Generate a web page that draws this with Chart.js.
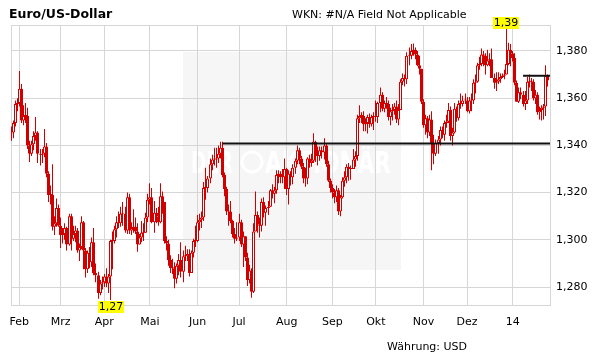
<!DOCTYPE html>
<html>
<head>
<meta charset="utf-8">
<script src="https://cdn.jsdelivr.net/npm/chart.js@4.4.1/dist/chart.umd.min.js"></script>
<style>
  body { margin: 0; background: #fff; }
  #wrap { position: relative; width: 611px; height: 364px; font-family: 'DejaVu Sans', Verdana, sans-serif; color: #000; }
  #wrap canvas { display: block; }
  #wrap div { position: absolute; white-space: nowrap; }
</style>
</head>
<body>
<div id="wrap">
  <canvas id="fxChart" width="611" height="364"></canvas>
  <div style="left:9px; top:6px; font-size:12.5px; line-height:15px; font-weight:bold;">Euro/US-Dollar</div>
  <div style="left:292px; top:7.5px; font-size:11px; line-height:14px;">WKN: #N/A Field Not Applicable</div>
  <div style="left:387px; top:339.5px; font-size:11px; line-height:14px;">Währung: USD</div>
</div>
<script>
// month ticks: label + index of the first trading day of that month
const monthLabels = ['Feb', 'Mrz', 'Apr', 'Mai', 'Jun', 'Jul', 'Aug', 'Sep', 'Okt', 'Nov', 'Dez', '14'];
const monthStarts = [4, 24, 45, 67, 90, 110, 133, 155, 176, 199, 220, 242];
const yTicks = [1.28, 1.30, 1.32, 1.34, 1.36, 1.38];

// daily EUR/USD, 28 Jan 2013 - 24 Jan 2014 (open = previous close)
const firstOpen = 1.3450;
const closes = [
  1.3455, 1.3495, 1.3575, 1.3580,
  1.3640, 1.3505, 1.3525, 1.3525, 1.3400, 1.3365, 1.3405, 1.3440, 1.3455, 1.3365, 1.3360, 1.3365, 1.3395, 1.3280, 1.3190, 1.3190, 1.3055, 1.3070, 1.3135, 1.3060,
  1.3020, 1.3025, 1.3050, 1.2980, 1.3100, 1.3005, 1.3025, 1.3040, 1.2955, 1.2970, 1.3075, 1.2955, 1.2875, 1.2945, 1.2905, 1.2990, 1.2860, 1.2850, 1.2775, 1.2815, 1.2820,
  1.2845, 1.2815, 1.2845, 1.2995, 1.2995, 1.3045, 1.3075, 1.3070, 1.3110, 1.3110, 1.3040, 1.3180, 1.3040, 1.3050, 1.3055, 1.3035, 1.2980, 1.3010, 1.3030, 1.3030, 1.3095, 1.3170,
  1.3180, 1.3075, 1.3115, 1.3100, 1.3075, 1.3185, 1.3160, 1.2995, 1.2985, 1.2915, 1.2880, 1.2880, 1.2835, 1.2890, 1.2915, 1.2865, 1.2930, 1.2930, 1.2940, 1.2860, 1.2945, 1.2995, 1.2995,
  1.3075, 1.3085, 1.3095, 1.3220, 1.3220, 1.3260, 1.3320, 1.3340, 1.3340, 1.3345, 1.3365, 1.3390, 1.3275, 1.3215, 1.3120, 1.3120, 1.3080, 1.3025, 1.3005, 1.3010,
  1.3075, 1.2980, 1.3015, 1.2925, 1.2830, 1.2870, 1.2780, 1.3035, 1.3105, 1.3065, 1.3060, 1.3160, 1.3115, 1.3135, 1.3140, 1.3210, 1.3195, 1.3210, 1.3275, 1.3280, 1.3265, 1.3265, 1.3300,
  1.3215, 1.3280, 1.3265, 1.3305, 1.3335, 1.3380, 1.3345, 1.3310, 1.3260, 1.3260, 1.3345, 1.3325, 1.3335, 1.3415, 1.3355, 1.3355, 1.3380, 1.3370, 1.3400, 1.3320, 1.3250, 1.3220,
  1.3200, 1.3180, 1.3210, 1.3120, 1.3180, 1.3250, 1.3265, 1.3310, 1.3300, 1.3300, 1.3340, 1.3355, 1.3515, 1.3525, 1.3525, 1.3490, 1.3495, 1.3520, 1.3490, 1.3520, 1.3525,
  1.3520, 1.3580, 1.3615, 1.3555, 1.3580, 1.3575, 1.3520, 1.3545, 1.3550, 1.3565, 1.3510, 1.3550, 1.3670, 1.3685, 1.3680, 1.3780, 1.3780, 1.3800, 1.3805, 1.3785, 1.3740, 1.3725, 1.3585,
  1.3485, 1.3515, 1.3455, 1.3510, 1.3410, 1.3365, 1.3410, 1.3425, 1.3465, 1.3445, 1.3495, 1.3500, 1.3550, 1.3440, 1.3455, 1.3555, 1.3515, 1.3575, 1.3575, 1.3590, 1.3590,
  1.3545, 1.3590, 1.3590, 1.3665, 1.3670, 1.3740, 1.3745, 1.3785, 1.3780, 1.3740, 1.3760, 1.3765, 1.3685, 1.3665, 1.3670, 1.3680, 1.3690, 1.3695, 1.3700, 1.3745, 1.3805, 1.3790,
  1.3770, 1.3665, 1.3585, 1.3625, 1.3615, 1.3575, 1.3590, 1.3670, 1.3670, 1.3670, 1.3600, 1.3615, 1.3540, 1.3550, 1.3560, 1.3565, 1.3695, 1.3675
];
const highs = [
  1.3480, 1.3505, 1.3590, 1.3600,
  1.3715, 1.3660, 1.3570, 1.3580, 1.3560, 1.3420, 1.3420, 1.3460, 1.3520, 1.3460, 1.3385, 1.3385, 1.3470, 1.3410, 1.3290, 1.3230, 1.3320, 1.3100, 1.3175, 1.3150,
  1.3095, 1.3050, 1.3070, 1.3055, 1.3110, 1.3110, 1.3060, 1.3060, 1.3050, 1.2985, 1.3100, 1.3080, 1.2965, 1.2955, 1.2970, 1.3010, 1.3050, 1.2900, 1.2865, 1.2830, 1.2845,
  1.2855, 1.2880, 1.2855, 1.3000, 1.3035, 1.3060, 1.3100, 1.3120, 1.3140, 1.3160, 1.3140, 1.3200, 1.3195, 1.3075, 1.3130, 1.3095, 1.3070, 1.3025, 1.3080, 1.3070, 1.3115, 1.3195,
  1.3240, 1.3220, 1.3165, 1.3135, 1.3140, 1.3240, 1.3205, 1.3160, 1.3015, 1.3000, 1.2935, 1.2920, 1.2905, 1.2900, 1.2940, 1.2990, 1.2955, 1.2975, 1.2960, 1.2960, 1.2955, 1.3005, 1.3060,
  1.3105, 1.3110, 1.3120, 1.3245, 1.3305, 1.3270, 1.3345, 1.3360, 1.3390, 1.3390, 1.3400, 1.3415, 1.3416, 1.3285, 1.3225, 1.3150, 1.3165, 1.3085, 1.3050, 1.3075,
  1.3110, 1.3085, 1.3035, 1.3015, 1.2945, 1.2895, 1.2880, 1.3070, 1.3205, 1.3120, 1.3095, 1.3175, 1.3180, 1.3145, 1.3165, 1.3215, 1.3235, 1.3225, 1.3295, 1.3295, 1.3290, 1.3300, 1.3345,
  1.3305, 1.3295, 1.3290, 1.3320, 1.3345, 1.3400, 1.3390, 1.3355, 1.3325, 1.3305, 1.3350, 1.3360, 1.3365, 1.3452, 1.3420, 1.3395, 1.3395, 1.3395, 1.3430, 1.3405, 1.3335, 1.3260,
  1.3235, 1.3215, 1.3230, 1.3220, 1.3190, 1.3265, 1.3290, 1.3320, 1.3325, 1.3315, 1.3385, 1.3375, 1.3530, 1.3570, 1.3540, 1.3545, 1.3515, 1.3530, 1.3535, 1.3530, 1.3540,
  1.3590, 1.3585, 1.3645, 1.3625, 1.3590, 1.3605, 1.3590, 1.3560, 1.3575, 1.3580, 1.3590, 1.3575, 1.3680, 1.3705, 1.3700, 1.3795, 1.3815, 1.3830, 1.3832, 1.3815, 1.3800, 1.3780, 1.3725,
  1.3595, 1.3530, 1.3525, 1.3530, 1.3545, 1.3445, 1.3425, 1.3440, 1.3480, 1.3480, 1.3505, 1.3530, 1.3580, 1.3565, 1.3475, 1.3580, 1.3565, 1.3590, 1.3620, 1.3610, 1.3620,
  1.3605, 1.3605, 1.3620, 1.3680, 1.3700, 1.3750, 1.3775, 1.3810, 1.3800, 1.3790, 1.3805, 1.3790, 1.3810, 1.3705, 1.3710, 1.3710, 1.3705, 1.3705, 1.3720, 1.3893, 1.3835, 1.3830,
  1.3800, 1.3790, 1.3675, 1.3645, 1.3645, 1.3630, 1.3630, 1.3690, 1.3700, 1.3685, 1.3680, 1.3635, 1.3625, 1.3565, 1.3570, 1.3575, 1.3740, 1.3700
];
const lows = [
  1.3420, 1.3430, 1.3480, 1.3545,
  1.3565, 1.3495, 1.3485, 1.3495, 1.3385, 1.3330, 1.3355, 1.3380, 1.3420, 1.3325, 1.3315, 1.3325, 1.3350, 1.3265, 1.3160, 1.3150, 1.3040, 1.3020, 1.3055, 1.3055,
  1.2965, 1.2985, 1.3000, 1.2955, 1.2975, 1.2955, 1.2995, 1.2990, 1.2945, 1.2910, 1.2960, 1.2875, 1.2840, 1.2860, 1.2880, 1.2885, 1.2850, 1.2820, 1.2750, 1.2765, 1.2790,
  1.2800, 1.2800, 1.2775, 1.2745, 1.2875, 1.2985, 1.3010, 1.3050, 1.3055, 1.3060, 1.3030, 1.3025, 1.3025, 1.3020, 1.3030, 1.3025, 1.2950, 1.2980, 1.2990, 1.2995, 1.3030, 1.3075,
  1.3150, 1.3070, 1.3030, 1.3070, 1.3060, 1.3070, 1.3110, 1.2985, 1.2955, 1.2890, 1.2860, 1.2855, 1.2795, 1.2815, 1.2850, 1.2840, 1.2820, 1.2910, 1.2910, 1.2845, 1.2860, 1.2925, 1.2970,
  1.2990, 1.3040, 1.3050, 1.3080, 1.3170, 1.3200, 1.3240, 1.3295, 1.3315, 1.3305, 1.3325, 1.3345, 1.3265, 1.3185, 1.3105, 1.3060, 1.3070, 1.3010, 1.2985, 1.2995,
  1.2995, 1.2970, 1.2885, 1.2910, 1.2805, 1.2815, 1.2755, 1.2775, 1.3035, 1.3030, 1.3010, 1.3035, 1.3095, 1.3060, 1.3105, 1.3140, 1.3175, 1.3155, 1.3195, 1.3240, 1.3240, 1.3240, 1.3215,
  1.3190, 1.3150, 1.3230, 1.3235, 1.3280, 1.3320, 1.3320, 1.3300, 1.3240, 1.3225, 1.3235, 1.3305, 1.3310, 1.3325, 1.3330, 1.3315, 1.3335, 1.3345, 1.3340, 1.3310, 1.3245, 1.3200,
  1.3175, 1.3155, 1.3160, 1.3105, 1.3100, 1.3175, 1.3225, 1.3240, 1.3250, 1.3255, 1.3300, 1.3310, 1.3335, 1.3495, 1.3495, 1.3460, 1.3460, 1.3450, 1.3475, 1.3480, 1.3465,
  1.3500, 1.3495, 1.3540, 1.3545, 1.3540, 1.3555, 1.3505, 1.3485, 1.3505, 1.3530, 1.3495, 1.3485, 1.3550, 1.3655, 1.3650, 1.3660, 1.3740, 1.3765, 1.3780, 1.3765, 1.3735, 1.3700, 1.3575,
  1.3475, 1.3445, 1.3430, 1.3440, 1.3295, 1.3320, 1.3355, 1.3365, 1.3400, 1.3430, 1.3420, 1.3475, 1.3495, 1.3420, 1.3400, 1.3450, 1.3500, 1.3505, 1.3555, 1.3565, 1.3575,
  1.3540, 1.3535, 1.3545, 1.3575, 1.3620, 1.3665, 1.3720, 1.3735, 1.3735, 1.3700, 1.3735, 1.3735, 1.3685, 1.3640, 1.3630, 1.3660, 1.3665, 1.3685, 1.3680, 1.3700, 1.3740, 1.3735,
  1.3755, 1.3655, 1.3585, 1.3580, 1.3595, 1.3565, 1.3550, 1.3575, 1.3645, 1.3630, 1.3590, 1.3575, 1.3530, 1.3510, 1.3505, 1.3510, 1.3525, 1.3650
];

// horizontal support / resistance lines
const levelValues = [1.3408, 1.3695];
const levelStarts = [102, 247];

const red = '#d00000';
const gridColor = '#d6d6d6';
const xMin = 0, xMax = 260;
const yMin = 1.2724, yMax = 1.391;

Chart.defaults.font.family = "'DejaVu Sans', Verdana, sans-serif";
Chart.defaults.font.size = 11;
Chart.defaults.color = '#000';

const opens = closes.map((c, i) => i === 0 ? firstOpen : closes[i - 1]);

const levelSets = levelValues.map((v, k) => ({
  type: 'line',
  data: [{ x: levelStarts[k], y: v }, { x: xMax, y: v }],
  borderColor: '#111',
  borderWidth: 2,
  pointRadius: 0,
  order: 0
}));

// snap candle centres to half pixels so 1px wicks and 3px bodies stay crisp
const snapBars = {
  id: 'snapBars',
  afterDatasetUpdate(chart, args) {
    if (args.meta.type !== 'bar') return;
    args.meta.data.forEach(el => { el.x = Math.floor(el.x) + 0.5; });
  }
};

// show the highest high and the lowest low as yellow tags
const extremes = {
  id: 'extremes',
  afterDatasetsDraw(chart) {
    const { ctx, scales: { x, y } } = chart;
    const hi = highs.indexOf(Math.max(...highs));
    const lo = lows.indexOf(Math.min(...lows));
    ctx.save();
    ctx.font = "11px 'DejaVu Sans'";
    ctx.textAlign = 'center';
    ctx.textBaseline = 'middle';
    const tag = (i, v, above) => {
      const text = v.toFixed(2).replace('.', ',');
      const w = Math.round(ctx.measureText(text).width) + 2, h = 12;
      const cx = x.getPixelForValue(i);
      const py = Math.round(y.getPixelForValue(v));
      const top = above ? py - h : py + 1;
      ctx.fillStyle = '#ffff00';
      ctx.fillRect(Math.round(cx - w / 2), top, w, h);
      ctx.fillStyle = '#000';
      ctx.fillText(text, Math.round(cx), top + h / 2 + 0.5);
    };
    tag(hi, highs[hi], true);
    tag(lo, lows[lo], false);
    ctx.restore();
  }
};

// grey logo panel behind the plot
const watermark = {
  id: 'watermark',
  beforeDraw(chart) {
    const ctx = chart.ctx;
    ctx.save();
    ctx.fillStyle = '#f6f6f6';
    ctx.fillRect(183, 52, 218, 218);
    ctx.fillStyle = '#fff';
    ctx.strokeStyle = '#fff';
    ctx.lineWidth = 3;
    ctx.font = "bold 30px 'DejaVu Sans'";
    ctx.fillText('DER', 191, 173, 42);
    ctx.beginPath();
    ctx.arc(252, 162, 10, 0, Math.PI * 2);
    ctx.stroke();
    ctx.fillText('AKTIONÄR', 265, 173, 126);
    ctx.restore();
  }
};

new Chart(document.getElementById('fxChart'), {
  type: 'bar',
  data: {
    datasets: [
      ...levelSets,
      {
        data: closes.map((c, i) => ({ x: i, y: [opens[i], c] })),
        backgroundColor: ctx => closes[ctx.dataIndex] >= opens[ctx.dataIndex] ? '#fff' : red,
        borderColor: red,
        borderWidth: 1,
        borderSkipped: false,
        barThickness: 3,
        minBarLength: 1,
        inflateAmount: 0,
        grouped: false,
        order: 1
      },
      {
        data: closes.map((c, i) => ({ x: i, y: [lows[i], highs[i]] })),
        backgroundColor: red,
        borderColor: red,
        borderWidth: 0,
        barThickness: 1,
        inflateAmount: 0,
        grouped: false,
        order: 2
      }
    ]
  },
  options: {
    responsive: false,
    animation: false,
    layout: { padding: { left: 10, top: 25, right: 0, bottom: 0 } },
    plugins: { legend: { display: false }, tooltip: { enabled: false } },
    scales: {
      x: {
        type: 'linear',
        min: xMin,
        max: xMax,
        offset: false,
        grid: { color: gridColor, drawTicks: false, offset: false },
        border: { color: gridColor },
        ticks: {
          autoSkip: false,
          maxRotation: 0,
          padding: 11,
          callback: v => {
            const k = monthStarts.indexOf(v);
            return k >= 0 ? monthLabels[k] : '';
          }
        },
        afterBuildTicks: s => { s.ticks = [xMin, ...monthStarts, xMax].map(v => ({ value: v })); },
        afterFit: s => { s.height = 59; }
      },
      y: {
        position: 'right',
        min: yMin,
        max: yMax,
        grid: { color: gridColor, drawTicks: false },
        border: { color: gridColor },
        ticks: {
          padding: 6,
          callback: v => yTicks.some(t => Math.abs(t - v) < 1e-6) ? v.toFixed(3).replace('.', ',') : ''
        },
        afterBuildTicks: s => { s.ticks = [yMin, ...yTicks, yMax].map(v => ({ value: v })); },
        afterFit: s => { s.width = 61; }
      }
    }
  },
  plugins: [snapBars, watermark, extremes]
});
</script>
</body>
</html>
